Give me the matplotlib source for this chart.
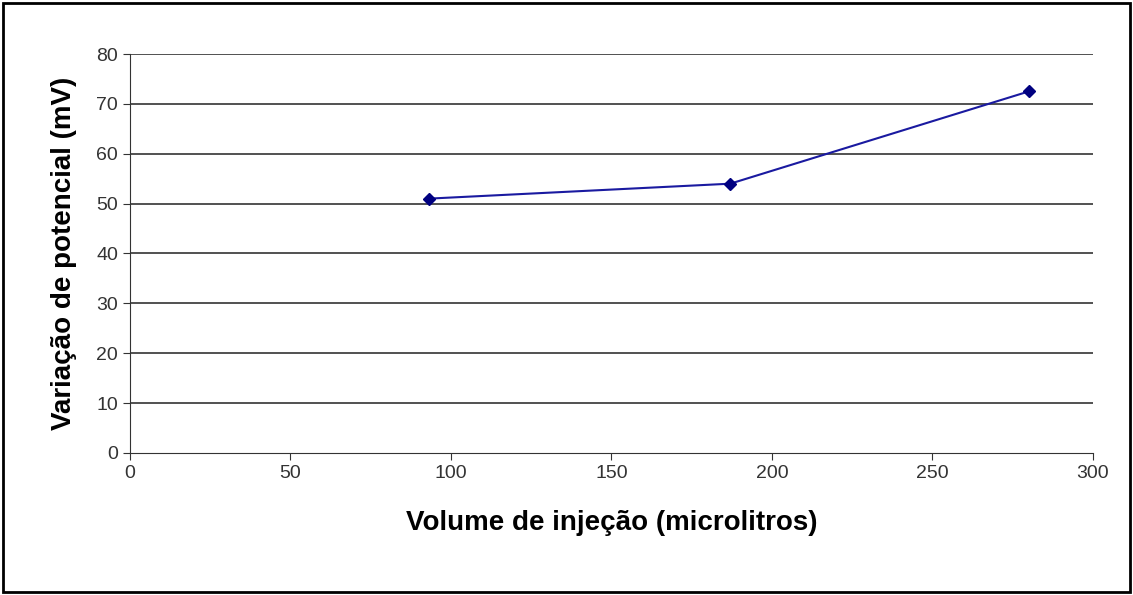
import matplotlib.pyplot as plt
import numpy as np

plt.rcParams['font.family'] = ['Liberation Sans', 'DejaVu Sans']

volume = [93, 187, 280]
potencial = [51, 54, 72.5]
x_ticks = [0, 50, 100, 150, 200, 250, 300]
x_labels = ['0', '50', '100', '150', '200', '250', '300']
y_ticks = [0, 10, 20, 30, 40, 50, 60, 70, 80]

fig = plt.figure(figsize=(11.33, 5.95), dpi=100)
ax = fig.add_axes([0.1147, 0.2387, 0.85, 0.6705])

for y in y_ticks[1:]:
    ax.axhline(y, color='#333333', lw=1.2, zorder=1)

ax.plot(volume, potencial, color='#1a1aa0', lw=1.5, marker='D', markersize=6,
        markerfacecolor='#000080', markeredgecolor='#000080', zorder=3)

ax.set_xlim(0, 300)
ax.set_ylim(0, 80)
ax.set_xticks(x_ticks)
ax.set_xticklabels(x_labels)
ax.set_yticks(y_ticks)
ax.tick_params(direction='out', length=5, labelsize=14, colors='#333333')
for s in ['top', 'right']:
    ax.spines[s].set_visible(False)
for s in ['left', 'bottom']:
    ax.spines[s].set_color('#333333')

ax.set_xlabel('Volume de injeção (microlitros)', fontsize=20, fontweight='bold', labelpad=20)
ax.set_ylabel('Variação de potencial (mV)', fontsize=20, fontweight='bold', labelpad=14)

fig.patches.append(plt.Rectangle((0.003, 0.005), 0.994, 0.99, transform=fig.transFigure,
                                 fill=False, edgecolor='black', lw=2))

fig.savefig('out.png', dpi=100)
